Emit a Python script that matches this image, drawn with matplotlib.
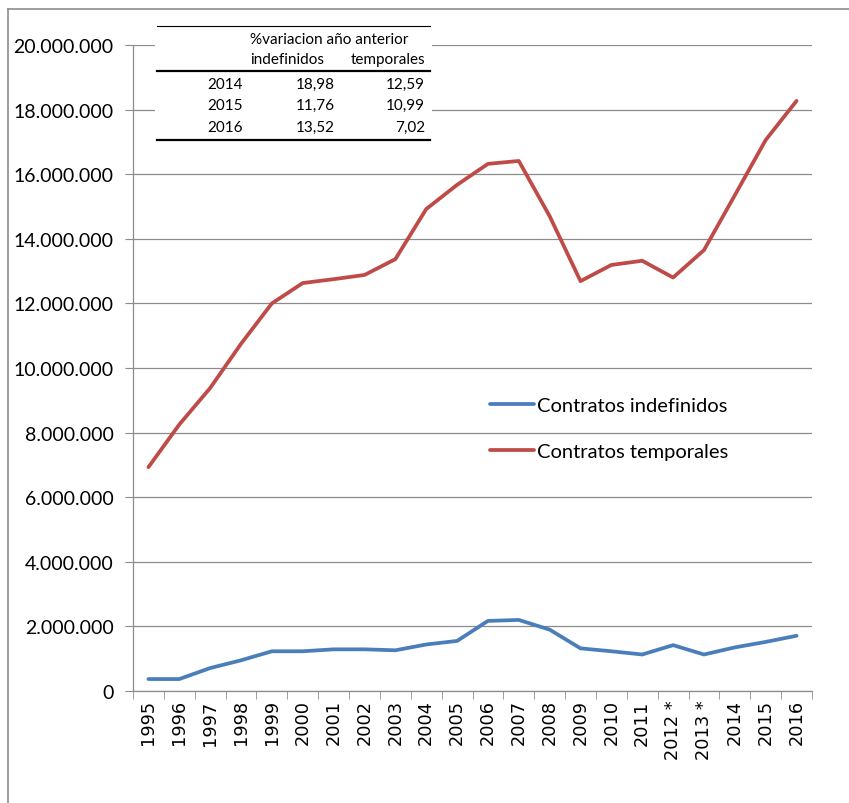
import matplotlib
matplotlib.use("Agg")
import matplotlib.pyplot as plt
from matplotlib.lines import Line2D
from matplotlib.patches import Rectangle
from matplotlib.ticker import FuncFormatter

# data
years = ["1995", "1996", "1997", "1998", "1999", "2000", "2001", "2002", "2003", "2004", "2005",
         "2006", "2007", "2008", "2009", "2010", "2011", "2012 *", "2013 *", "2014", "2015", "2016"]
indefinidos = [0.37, 0.37, 0.71, 0.95, 1.23, 1.23, 1.29, 1.29, 1.26, 1.44, 1.55,
               2.17, 2.20, 1.90, 1.32, 1.23, 1.13, 1.42, 1.13, 1.35, 1.52, 1.71]
temporales = [6.93, 8.25, 9.38, 10.75, 12.00, 12.63, 12.75, 12.88, 13.37, 14.92, 15.67,
              16.32, 16.41, 14.70, 12.69, 13.19, 13.32, 12.80, 13.65, 15.35, 17.06, 18.27]
indefinidos = [v * 1e6 for v in indefinidos]
temporales = [v * 1e6 for v in temporales]

# small table in the top-left corner
table_years = ["2014", "2015", "2016"]
var_indef = ["18,98", "11,76", "13,52"]
var_temp = ["12,59", "10,99", "7,02"]

W, H = 849, 804
fig = plt.figure(figsize=(W / 100, H / 100), dpi=100)
ax = fig.add_axes([133 / W, 1 - 692 / H, (812 - 133) / W, (692 - 46) / H])

x = list(range(len(years)))
ax.plot(x, indefinidos, color="#4A7EBB", lw=2.7, label="Contratos indefinidos", solid_capstyle="round")
ax.plot(x, temporales, color="#BE4B48", lw=2.7, label="Contratos temporales", solid_capstyle="round")

ax.set_xlim(-0.5, len(years) - 0.5)
ax.set_ylim(0, 20e6)
ax.set_yticks(range(0, 20000001, 2000000))
ax.yaxis.set_major_formatter(FuncFormatter(lambda v, p: f"{int(v):,}".replace(",", ".")))
ax.grid(axis="y", color="#8c8c8c", lw=0.9)
ax.set_axisbelow(True)

ax.set_xticks(x)
ax.set_xticklabels(years, rotation=90, fontsize=12.8, family="DejaVu Sans")
ax.set_xticks([i - 0.5 for i in range(len(years) + 1)], minor=True)
ax.tick_params(axis="x", which="major", length=0, pad=6)
ax.tick_params(axis="x", which="minor", length=6, color="#8c8c8c")
ax.tick_params(axis="y", length=6, color="#8c8c8c", labelsize=14, pad=8)
for lab in ax.get_yticklabels():
    lab.set_family("Lato")

for s in ["top", "right"]:
    ax.spines[s].set_visible(False)
for s in ["left", "bottom"]:
    ax.spines[s].set_color("#8c8c8c")
    ax.spines[s].set_linewidth(0.9)

leg = ax.legend(loc="upper left", bbox_to_anchor=(490 / W, 1 - 398 / H), bbox_transform=fig.transFigure,
                frameon=False, prop={"family": "Lato", "size": 14.5}, borderpad=0, borderaxespad=0,
                handlelength=2.2, handletextpad=0.15, labelspacing=1.45)

# outer frame of the picture
fig.add_artist(Line2D([8 / W, 8 / W], [0, 1 - 10 / H], color="#8c8c8c", lw=1.2))
fig.add_artist(Line2D([8 / W, 1], [1 - 10 / H, 1 - 10 / H], color="#8c8c8c", lw=1.2))

# table with white background
def fx(px):
    return px / W

def fy(py):
    return 1 - py / H

fig.add_artist(Rectangle((fx(155), fy(143)), fx(432) - fx(155), fy(27) - fy(143),
                         transform=fig.transFigure, facecolor="white", edgecolor="none", zorder=5))
fig.add_artist(Line2D([fx(157), fx(430)], [fy(27), fy(27)], color="black", lw=0.8, zorder=6))
fig.add_artist(Line2D([fx(157), fx(430)], [fy(72), fy(72)], color="black", lw=1.6, zorder=6))
fig.add_artist(Line2D([fx(157), fx(430)], [fy(141), fy(141)], color="black", lw=1.6, zorder=6))

tkw = dict(fontsize=11, family="Lato", va="center", zorder=7)
fig.text(fx(250), fy(40), "%variacion año anterior", ha="left", **tkw)
fig.text(fx(250), fy(60), "indefinidos", ha="left", **tkw)
fig.text(fx(425), fy(60), "temporales", ha="right", **tkw)
row_y = [85, 106, 128]
for yr, a, b, ry in zip(table_years, var_indef, var_temp, row_y):
    fig.text(fx(243), fy(ry), yr, ha="right", **tkw)
    fig.text(fx(335), fy(ry), a, ha="right", **tkw)
    fig.text(fx(425), fy(ry), b, ha="right", **tkw)

fig.savefig("out.png", dpi=100)
